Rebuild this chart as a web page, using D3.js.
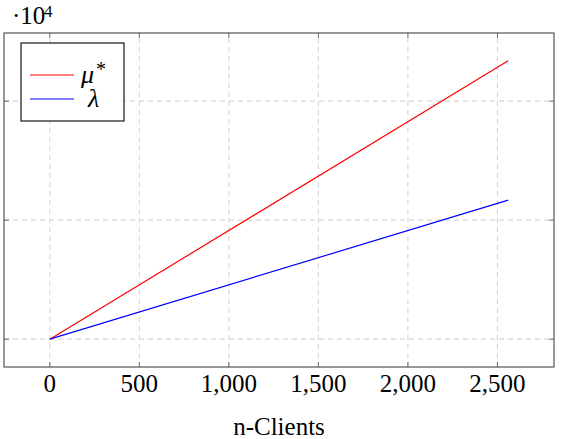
<!DOCTYPE html>
<html><head><meta charset="utf-8">
<script src="https://cdn.jsdelivr.net/npm/d3@7"></script>
<style>body{margin:0;background:#fff}svg{display:block}
text{font-family:"Liberation Serif","DejaVu Serif",serif}</style>
</head><body>
<script>
const nClients = [0, 2560];
const muStar = [0, 23390];
const lambda = [0, 11690];
const xTicks = [0, 500, 1000, 1500, 2000, 2500];
const yTicks = [0, 10000, 20000];
const seriesNames = ["\u03bc", "\u03bb"];
const seriesSup = ["*", ""];
const xLabel = "n-Clients";

const W = 563, H = 439;
const m = {left: 4, right: 9, top: 33, bottom: 72};
const svg = d3.select("body").append("svg").attr("width", W).attr("height", H);
const xmax = d3.max(nClients), ymax = d3.max(muStar);
const x = d3.scaleLinear().domain([-0.1*xmax, 1.1*xmax]).range([m.left, W - m.right]);
const y = d3.scaleLinear().domain([-0.1*ymax, 1.1*ymax]).range([H - m.bottom, m.top]);
const x0 = m.left, x1 = W - m.right, y0 = H - m.bottom, y1 = m.top;

// grid
const g = svg.append("g");
g.selectAll(".gx").data(xTicks).join("line")
  .attr("x1", d => x(d)).attr("x2", d => x(d)).attr("y1", y0).attr("y2", y1)
  .attr("stroke", "#d6d6d6").attr("stroke-dasharray", "5,4").attr("stroke-width", 1.1);
g.selectAll(".gy").data(yTicks).join("line")
  .attr("y1", d => y(d)).attr("y2", d => y(d)).attr("x1", x0).attr("x2", x1)
  .attr("stroke", "#d6d6d6").attr("stroke-dasharray", "5,4").attr("stroke-width", 1.1);

// ticks (inside, all sides)
const tl = 5, tc = "#6e6e6e";
xTicks.forEach(d => {
  svg.append("line").attr("x1", x(d)).attr("x2", x(d)).attr("y1", y0).attr("y2", y0 - tl).attr("stroke", tc);
  svg.append("line").attr("x1", x(d)).attr("x2", x(d)).attr("y1", y1).attr("y2", y1 + tl).attr("stroke", tc);
});
yTicks.forEach(d => {
  svg.append("line").attr("y1", y(d)).attr("y2", y(d)).attr("x1", x0).attr("x2", x0 + tl).attr("stroke", tc);
  svg.append("line").attr("y1", y(d)).attr("y2", y(d)).attr("x1", x1).attr("x2", x1 - tl).attr("stroke", tc);
});

// lines
const line = d3.line().x((d, i) => x(nClients[i])).y(d => y(d));
svg.append("path").datum(muStar).attr("d", line).attr("fill", "none").attr("stroke", "#ff0000").attr("stroke-width", 1.2);
svg.append("path").datum(lambda).attr("d", line).attr("fill", "none").attr("stroke", "#0000ff").attr("stroke-width", 1.2);

// frame
svg.append("rect").attr("x", x0).attr("y", y1).attr("width", x1 - x0).attr("height", y0 - y1)
  .attr("fill", "none").attr("stroke", "#454545").attr("stroke-width", 1.1);

// x tick labels
const fmt = d3.format(",");
svg.selectAll(".xl").data(xTicks).join("text")
  .attr("x", d => x(d)).attr("y", 392).attr("text-anchor", "middle")
  .attr("font-size", 25).text(d => fmt(d));

// x label
svg.append("text").attr("x", (x0 + x1) / 2).attr("y", 435).attr("text-anchor", "middle")
  .attr("font-size", 25).text(xLabel);

// scale label
svg.append("text").attr("x", 12).attr("y", 24).attr("font-size", 25).text("\u00b710");
svg.append("text").attr("x", 44).attr("y", 17).attr("font-size", 17).text("4");

// legend
const lg = svg.append("g");
lg.append("rect").attr("x", 21).attr("y", 43).attr("width", 103).attr("height", 78)
  .attr("fill", "#fff").attr("stroke", "#000").attr("stroke-width", 1.1);
const cols = ["#ff0000", "#0000ff"];
const ly = [75, 99];
const lx = [81, 88];
seriesNames.forEach((s, i) => {
  lg.append("line").attr("x1", 30).attr("x2", 74).attr("y1", ly[i]).attr("y2", ly[i]).attr("stroke", cols[i]).attr("stroke-width", 1.2);
  lg.append("text").attr("x", lx[i]).attr("y", ly[i] + 8)
    .attr("font-style", "italic").attr("font-size", 26).text(s);
  if (seriesSup[i]) lg.append("text").attr("x", 96).attr("y", 76)
    .attr("font-size", 20).text(seriesSup[i]);
});
</script>
</body></html>
